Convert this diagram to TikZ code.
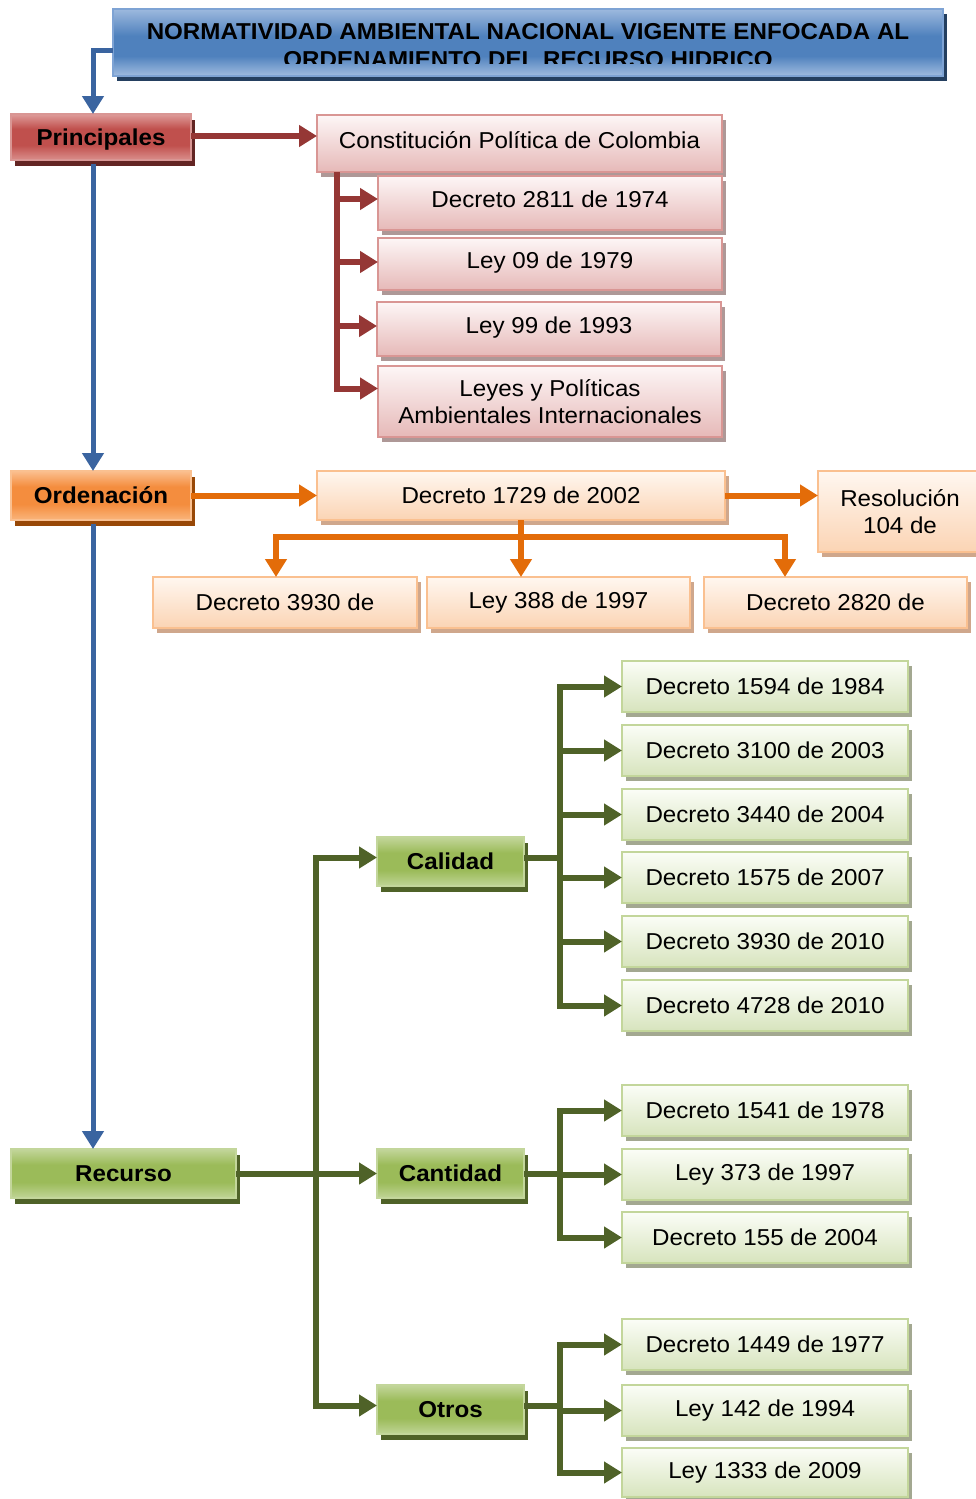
\documentclass[tikz,border=0pt]{standalone}
\usepackage{fontspec}
\setmainfont{Liberation Sans}[FakeStretch=1.05]
\usetikzlibrary{arrows.meta,shadows,calc}
\definecolor{tTop}{HTML}{9DB9DE}
\definecolor{tMid}{HTML}{4F81BD}
\definecolor{tBot}{HTML}{A0BCE0}
\definecolor{tBrd}{HTML}{7EA3D4}
\definecolor{tSh}{HTML}{243F60}
\definecolor{blueLn}{HTML}{3A64A0}
\definecolor{rTop}{HTML}{DE9C9A}
\definecolor{rMid}{HTML}{C0504D}
\definecolor{rBot}{HTML}{DA8F8C}
\definecolor{rBrd}{HTML}{D99694}
\definecolor{rSh}{HTML}{632523}
\definecolor{redLn}{HTML}{953735}
\definecolor{pTop}{HTML}{FDF6F6}
\definecolor{pBot}{HTML}{E6B9B8}
\definecolor{pBrd}{HTML}{D99694}
\definecolor{pSh}{HTML}{AE9897}
\definecolor{oTop}{HTML}{FBBF8F}
\definecolor{oMid}{HTML}{F48D3E}
\definecolor{oBot}{HTML}{FAB57C}
\definecolor{oBrd}{HTML}{FAC090}
\definecolor{oSh}{HTML}{984807}
\definecolor{orLn}{HTML}{E36C09}
\definecolor{loTop}{HTML}{FFF7F0}
\definecolor{loBot}{HTML}{FBD4B4}
\definecolor{loBrd}{HTML}{FAC090}
\definecolor{loSh}{HTML}{CFA78C}
\definecolor{gTop}{HTML}{C3D69B}
\definecolor{gMid}{HTML}{9BBB59}
\definecolor{gBot}{HTML}{C0D597}
\definecolor{gSh}{HTML}{4F6228}
\definecolor{grLn}{HTML}{4F6228}
\definecolor{lgTop}{HTML}{FBFDF7}
\definecolor{lgBot}{HTML}{D7E4BD}
\definecolor{lgBrd}{HTML}{C3D69B}
\definecolor{lgSh}{HTML}{A3A891}
\pgfdeclareverticalshading{titlesh}{100bp}{color(0bp)=(tBot); color(25bp)=(tBot); color(40bp)=(tMid); color(55bp)=(tMid); color(75bp)=(tTop); color(100bp)=(tTop)}
\pgfdeclareverticalshading{redsh}{100bp}{color(0bp)=(rBot); color(25bp)=(rBot); color(41bp)=(rMid); color(59bp)=(rMid); color(75bp)=(rTop); color(100bp)=(rTop)}
\pgfdeclareverticalshading{orsh}{100bp}{color(0bp)=(oBot); color(25bp)=(oBot); color(41bp)=(oMid); color(59bp)=(oMid); color(75bp)=(oTop); color(100bp)=(oTop)}
\pgfdeclareverticalshading{grsh}{100bp}{color(0bp)=(gBot); color(25bp)=(gBot); color(41bp)=(gMid); color(59bp)=(gMid); color(75bp)=(gTop); color(100bp)=(gTop)}
\newcommand\mybox[7]{\node[#1,minimum width=#5pt,minimum height=#6pt] (#2) at (#3,#4) {#7};}
\begin{document}
\begin{tikzpicture}[x=1pt,y=-1pt,
  every node/.style={inner sep=0pt,outer sep=0pt,align=center},
  bx/.style={draw,line width=1.5pt,anchor=north west,font=\fontsize{23}{27.5}\selectfont},
  bbx/.style={bx,font=\bfseries\fontsize{23}{27.5}\selectfont},
  titlebox/.style={bx,draw=tBrd,shade,shading=titlesh,
    drop shadow={shadow xshift=4pt,shadow yshift=-5pt,fill=tSh,opacity=1}},
  redbox/.style={bbx,draw=rBrd,shade,shading=redsh,
    drop shadow={shadow xshift=4pt,shadow yshift=-6pt,fill=rSh,opacity=1}},
  pinkbox/.style={bx,draw=pBrd,top color=pTop,bottom color=pBot,
    drop shadow={shadow xshift=4pt,shadow yshift=-5pt,fill=pSh,opacity=1}},
  orbox/.style={bbx,draw=oBrd,shade,shading=orsh,
    drop shadow={shadow xshift=4pt,shadow yshift=-6pt,fill=oSh,opacity=1}},
  lobox/.style={bx,draw=loBrd,top color=loTop,bottom color=loBot,
    drop shadow={shadow xshift=4pt,shadow yshift=-5pt,fill=loSh,opacity=1}},
  grbox/.style={bbx,draw=gTop,shade,shading=grsh,
    drop shadow={shadow xshift=4pt,shadow yshift=-6pt,fill=gSh,opacity=1}},
  lgbox/.style={bx,draw=lgBrd,top color=lgTop,bottom color=lgBot,
    drop shadow={shadow xshift=4pt,shadow yshift=-5pt,fill=lgSh,opacity=1}},
  up/.style={text depth=7pt},
  tip/.style={-{Triangle[length=18pt,width=21pt]}},
  blueln/.style={draw=blueLn,line width=5pt},
  redln/.style={draw=redLn,line width=6pt},
  orln/.style={draw=orLn,line width=6pt},
  grln/.style={draw=grLn,line width=6pt},
]
\useasboundingbox (0,0) rectangle (976,1499);
% title
\mybox{titlebox}{title}{113}{9}{830}{67}{}
\begin{scope}
  \clip (113,9) rectangle (943,63);
  \node[font=\bfseries\fontsize{23}{28}\selectfont] (titletext) at (528,46)
    {NORMATIVIDAD AMBIENTAL NACIONAL VIGENTE ENFOCADA AL\\ORDENAMIENTO DEL RECURSO HIDRICO};
\end{scope}
% principales
\mybox{redbox,text height=17pt,text depth=0pt}{princ}{11}{114}{180}{46}{Principales}
\mybox{pinkbox,up}{const}{317}{115}{405}{57}{Constitución Política de Colombia}
\mybox{pinkbox,up}{d2811}{378}{176}{344}{54}{Decreto 2811 de 1974}
\mybox{pinkbox,up}{l09}{378}{238}{344}{52}{Ley 09 de 1979}
\mybox{pinkbox,up}{l99}{377}{302}{344}{54}{Ley 99 de 1993}
\mybox{pinkbox}{leyes}{378}{366}{344}{71}{Leyes y Políticas\\Ambientales Internacionales}
% ordenacion
\mybox{orbox}{orden}{11}{471}{180}{49}{Ordenación}
\mybox{lobox}{d1729}{317}{471}{408}{49}{Decreto 1729 de 2002}
\mybox{lobox}{resol}{818}{471}{164}{81}{Resolución\\104 de}
\mybox{lobox}{d3930a}{153}{577}{264}{51}{Decreto 3930 de}
\mybox{lobox}{l388}{427}{577}{263}{51}{Ley 388 de 1997}
\mybox{lobox}{d2820}{704}{577}{263}{51}{Decreto 2820 de}
% recurso
\mybox{grbox}{recurso}{11}{1149}{225}{49}{Recurso}
\mybox{grbox}{calidad}{377}{837}{147}{49}{Calidad}
\mybox{grbox}{cantidad}{377}{1149}{147}{49}{Cantidad}
\mybox{grbox}{otros}{377}{1385}{147}{49}{Otros}
\mybox{lgbox}{d1594}{622}{661}{286}{51}{Decreto 1594 de 1984}
\mybox{lgbox}{d3100}{622}{725}{286}{51}{Decreto 3100 de 2003}
\mybox{lgbox}{d3440}{622}{789}{286}{51}{Decreto 3440 de 2004}
\mybox{lgbox}{d1575}{622}{852}{286}{51}{Decreto 1575 de 2007}
\mybox{lgbox}{d3930}{622}{916}{286}{51}{Decreto 3930 de 2010}
\mybox{lgbox}{d4728}{622}{980}{286}{51}{Decreto 4728 de 2010}
\mybox{lgbox}{d1541}{622}{1085}{286}{51}{Decreto 1541 de 1978}
\mybox{lgbox}{l373}{622}{1149}{286}{51}{Ley 373 de 1997}
\mybox{lgbox}{d155}{622}{1212}{286}{51}{Decreto 155 de 2004}
\mybox{lgbox}{d1449}{622}{1319}{286}{51}{Decreto 1449 de 1977}
\mybox{lgbox}{l142}{622}{1385}{286}{51}{Ley 142 de 1994}
\mybox{lgbox}{l1333}{622}{1448}{286}{49}{Ley 1333 de 2009}
% blue connectors
\coordinate (bx) at (93,0);
\draw[blueln,tip] ([yshift=-8pt]title.west) -| (princ.north -| bx);
\draw[blueln,tip] ([yshift=-4pt]princ.south -| bx) -- (orden.north -| bx);
\draw[blueln,tip] ([yshift=-4pt]orden.south -| bx) -- (recurso.north -| bx);
% red connectors
\coordinate (rt) at (337,0);
\draw[redln,tip] ([yshift=1pt]princ.east) -- ([yshift=1pt]princ.east -| const.west);
\draw[redln,tip] (const.south -| rt) |- ([yshift=13pt]leyes.west);
\draw[redln,tip] ([yshift=4pt]d2811.west -| rt) -- ([yshift=4pt]d2811.west);
\draw[redln,tip] ([yshift=2pt]l09.west -| rt) -- ([yshift=2pt]l09.west);
\draw[redln,tip] ([yshift=3pt]l99.west -| rt) -- ([yshift=3pt]l99.west);
% orange connectors
\coordinate (oL) at (276,537);
\coordinate (oR) at (785,537);
\draw[orln,tip] (orden.east) -- (orden.east -| d1729.west);
\draw[orln,tip] (d1729.east) -- (d1729.east -| resol.west);
\draw[orln,tip] (oR) -- (oL) -- (oL |- d3930a.north);
\draw[orln,tip] (oL) -- (oR) -- (oR |- d2820.north);
\draw[orln,tip] (d1729.south) -- (d1729.south |- l388.north);
% green connectors
\coordinate (gt) at (316,0);
\coordinate (ct) at (560,0);
\draw[grln] (recurso.east) -- (recurso.east -| gt);
\draw[grln,tip] ([yshift=4pt]otros.west -| gt) |- ([yshift=4pt]calidad.west);
\draw[grln,tip] (cantidad.west -| gt) -- (cantidad.west);
\draw[grln,tip] ([yshift=4pt]calidad.west -| gt) |- ([yshift=4pt]otros.west);
% calidad
\draw[grln] ([yshift=4pt]calidad.east) -- ([yshift=4pt]calidad.east -| ct);
\draw[grln,tip] (d4728.west -| ct) |- (d1594.west);
\draw[grln,tip] (d1594.west -| ct) |- (d4728.west);
\draw[grln,tip] (d3100.west -| ct) -- (d3100.west);
\draw[grln,tip] (d3440.west -| ct) -- (d3440.west);
\draw[grln,tip] (d1575.west -| ct) -- (d1575.west);
\draw[grln,tip] (d3930.west -| ct) -- (d3930.west);
% cantidad
\draw[grln] (cantidad.east) -- (cantidad.east -| ct);
\draw[grln,tip] (d155.west -| ct) |- (d1541.west);
\draw[grln,tip] (d1541.west -| ct) |- (d155.west);
\draw[grln,tip] (l373.west -| ct) -- (l373.west);
% otros
\draw[grln] ([yshift=4pt]otros.east) -- ([yshift=4pt]otros.east -| ct);
\draw[grln,tip] (l1333.west -| ct) |- (d1449.west);
\draw[grln,tip] (d1449.west -| ct) |- (l1333.west);
\draw[grln,tip] (l142.west -| ct) -- (l142.west);
\end{tikzpicture}
\end{document}
